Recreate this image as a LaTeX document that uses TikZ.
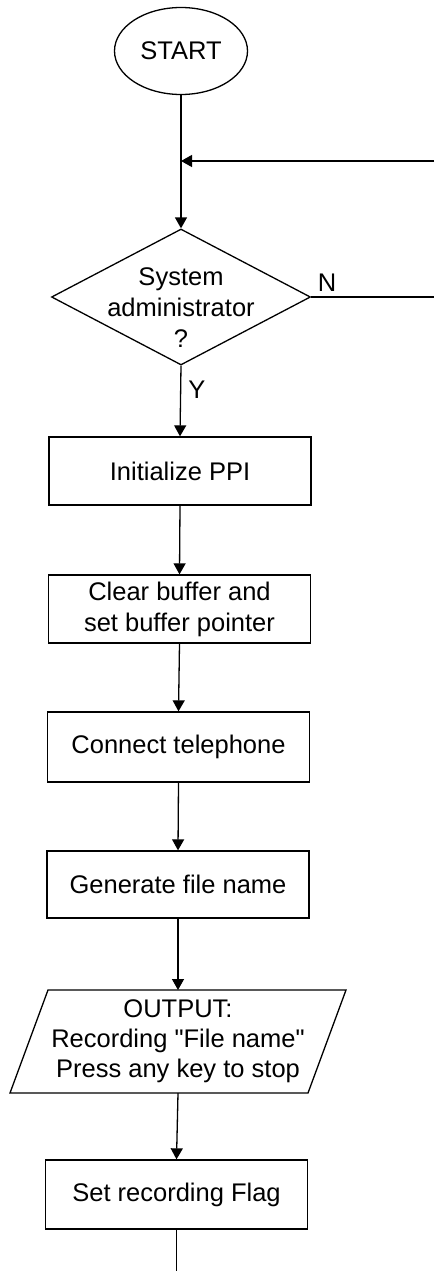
\documentclass[tikz,border=0pt]{standalone}
\usepackage{fontspec}
\setmainfont{Liberation Sans}[Ligatures=TeXOff]
\usetikzlibrary{arrows.meta,shapes.geometric}
\begin{document}
\begin{tikzpicture}[x=1pt,y=-1pt, line width=1.3pt,
  every node/.style={font=\fontsize{25.5}{31}\selectfont, align=center},
  procbox/.style={draw, rectangle, minimum width=262pt, inner sep=0pt},
  plain/.style={draw=none, inner sep=0pt},
  arr/.style={-{Triangle[length=11pt,width=12pt]}}]
\useasboundingbox (0,0) rectangle (434,1271);
% terminator
\node[draw, ellipse, minimum width=133pt, minimum height=87pt, inner sep=0pt] (start) at (181,51) {START};
% decision
\node[draw, diamond, minimum width=259pt, minimum height=136pt, inner sep=0pt] (dec) at (181,297) {};
\node[plain] (dectext) at (181,308) {System\\administrator\\?};
\node[plain] (N) at (327,283) {N};
\node[plain] (Y) at (197,390) {Y};
% process boxes
\node[procbox, minimum height=68pt] (b1) at (180,471) {Initialize PPI};
\node[procbox, minimum height=68pt] (b2) at (179.5,609) {Clear buffer and\\set buffer pointer};
\node[procbox, minimum height=70pt] (b3) at (178.5,747) {Connect telephone};
\node[procbox, minimum height=67pt] (b4) at (178,884.5) {Generate file name};
% output parallelogram
\coordinate (pTL) at (48,990);
\coordinate (pTR) at (346,990);
\coordinate (pBR) at (308,1093);
\coordinate (pBL) at (10,1093);
\draw (pTL) -- (pTR) -- (pBR) -- (pBL) -- cycle;
\coordinate (ptop) at (178,990);
\coordinate (pbot) at (178,1093);
\node[plain, font=\fontsize{25.5}{30}\selectfont] (outtext) at (178,1041) {OUTPUT:\\Recording "File name"\\Press any key to stop};
\node[procbox, minimum height=69pt] (b5) at (176.5,1194.5) {Set recording Flag};
% free ends
\coordinate (fbR) at (434,161);
\coordinate (nR) at (434,297);
\coordinate (endpt) at (176.5,1271);
% connectors
\draw[arr] (start.south) -- (dec.north);
\draw[arr] (fbR) -- (start.south |- fbR);
\draw (dec.east) -- (nR);
\draw[arr] (dec.south) -- (b1.north);
\draw[arr] (b1.south) -- (b2.north);
\draw[arr] (b2.south) -- (b3.north);
\draw[arr] (b3.south) -- (b4.north);
\draw[arr] (b4.south) -- (ptop);
\draw[arr] (pbot) -- (b5.north);
\draw (b5.south) -- (endpt);
\end{tikzpicture}
\end{document}
